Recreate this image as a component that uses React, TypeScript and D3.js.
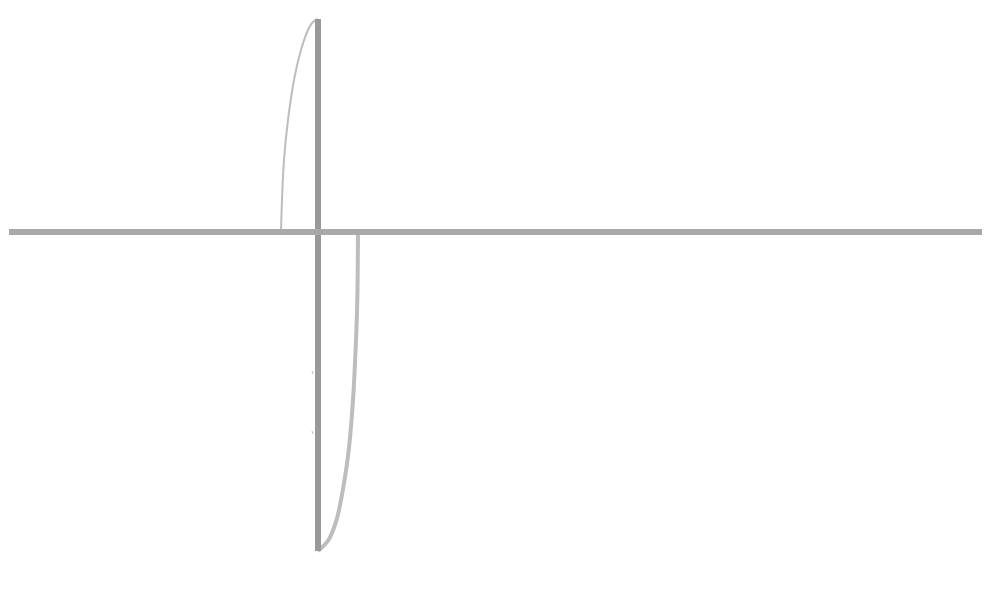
import React from "react";
import * as d3 from "d3";

// values in data units (1 unit = 10px)
const xDomain = [-30.9, 66.4];
const yDomain = [-31.9, 21.3];
const upperCurveX = [-3.7, -3.6, -3.4, -3.0, -2.4, -1.7, -1.0, -0.5, 0];
const upperCurveY = [0, 3.2, 7.2, 11.2, 15.2, 18.2, 20.2, 21.0, 21.3];
const lowerCurveX = [4.0, 3.93, 3.8, 3.5, 3.18, 2.95, 2.65, 2.3, 1.85, 1.05, 0];
const lowerCurveY = [0, -6.8, -10.8, -16.8, -20.8, -22.8, -24.8, -26.8, -28.8, -30.8, -31.9];
const tickMarksY = [-14, -20];

export default function App() {
  const x = d3.scaleLinear().domain(xDomain).range([9, 982]);
  const y = d3.scaleLinear().domain(yDomain).range([551, 19]);
  const line = d3
    .line<[number, number]>()
    .x((d) => x(d[0]))
    .y((d) => y(d[1]))
    .curve(d3.curveCatmullRom.alpha(0.5));
  const upper = upperCurveX.map((v, i) => [v, upperCurveY[i]] as [number, number]);
  const lower = lowerCurveX.map((v, i) => [v, lowerCurveY[i]] as [number, number]);
  return (
    <svg
      width={1000}
      height={600}
      style={{ position: "absolute", left: 0, top: 0, background: "#fff" }}
    >
      <path d={line(upper) || ""} fill="none" stroke="#bdbdbd" strokeWidth={2} />
      <path d={line(lower) || ""} fill="none" stroke="#bdbdbd" strokeWidth={4} />
      <line x1={x(0)} x2={x(0)} y1={y(yDomain[0])} y2={y(yDomain[1])} stroke="#999" strokeWidth={6} />
      <line x1={x(xDomain[0])} x2={x(xDomain[1])} y1={y(0)} y2={y(0)} stroke="#a9a9a9" strokeWidth={6} />
      {tickMarksY.map((t) => (
        <line key={t} x1={x(0) - 6} x2={x(0) - 5} y1={y(t) - 1} y2={y(t) + 2} stroke="#bbb" strokeWidth={1} />
      ))}
    </svg>
  );
}
